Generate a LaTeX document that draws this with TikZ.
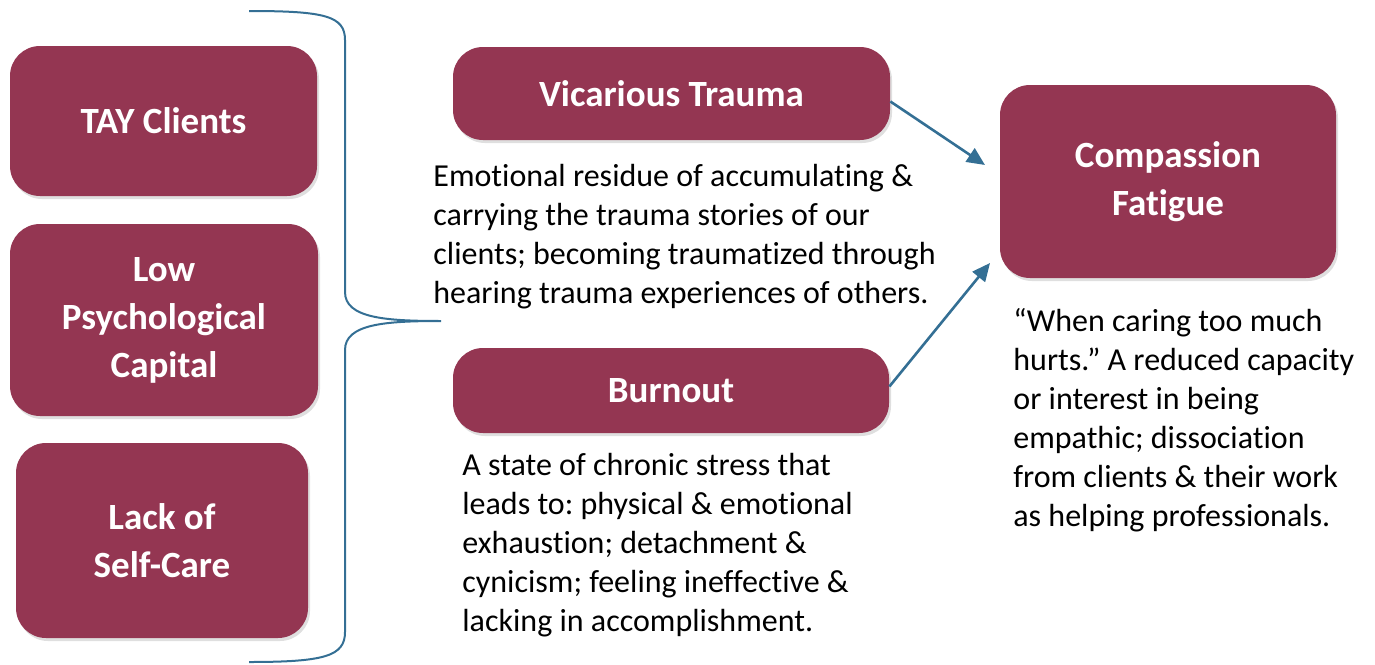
\documentclass[tikz,border=0pt]{standalone}
\usepackage{fontspec}
\setmainfont{Carlito}[Ligatures={NoCommon}]
\frenchspacing
\usetikzlibrary{arrows.meta,shadows}
\definecolor{boxred}{RGB}{148,54,82}
\definecolor{linkblue}{RGB}{52,111,148}
\begin{document}
\begin{tikzpicture}[x=0.5pt,y=-0.5pt]
        \useasboundingbox (0,0) rectangle (1375,664);
        \begin{scope}[every node/.style={rounded corners=15pt,fill=boxred,text=white,align=center,
            font=\bfseries\fontsize{18.5}{24}\selectfont,
            drop shadow={shadow xshift=1pt,shadow yshift=-1.5pt,opacity=0.25}}]
        \node[minimum width=153.5pt,minimum height=75pt] (tay) at (163.5,121) {TAY Clients};
        \node[minimum width=154pt,minimum height=96pt] (lowpc) at (164,320) {Low\\Psychological\\Capital};
        \node[minimum width=146pt,minimum height=97.5pt] (selfcare) at (162,540.5) {Lack of\\Self-Care};
        \node[minimum width=218.5pt,minimum height=46.5pt] (vt) at (671.5,93.5) {Vicarious Trauma};
        \node[minimum width=218pt,minimum height=42.5pt] (bo) at (671,390.5) {Burnout};
        \node[minimum width=168pt,minimum height=96.5pt] (cf) at (1168,181.5) {Compassion\\Fatigue};
        \end{scope}
        \begin{scope}[every node/.style={anchor=north west,align=left,inner sep=0pt,
            font=\fontsize{16}{19.5}\selectfont}]
        \node (vttext) at (433,164) {Emotional residue of accumulating \&\\carrying the trauma stories of our\\clients; becoming traumatized through\\hearing trauma experiences of others.};
        \node (botext) at (462,453) {A state of chronic stress that\\leads to: physical \& emotional\\exhaustion; detachment \&\\cynicism; feeling ineffective \&\\lacking in accomplishment.};
        \node (cftext) at (1013,308) {``When caring too much\\hurts.'' A reduced capacity\\or interest in being\\empathic; dissociation\\from clients \& their work\\as helping professionals.};
        \end{scope}
        \coordinate (bracetop) at (249,11);
        \coordinate (bracebot) at (249,662);
        \coordinate (bracetip) at (441,321);
        \coordinate (vtend) at (985,165);
        \coordinate (boend) at (990,263);
        \draw[linkblue,line width=1pt] (bracetop) .. controls (325,11) and (345,16) .. (345,40)
              -- (345,292) .. controls (345,318) and (385,321) .. (bracetip)
              .. controls (385,321) and (345,324) .. (345,350)
              -- (345,632) .. controls (345,656) and (325,662) .. (bracebot);
        \begin{scope}[every edge/.style={draw=linkblue,line width=1.3pt,-{Triangle[length=9pt,width=8pt]}}]
        \path ([yshift=-4pt]vt.east) edge (vtend)
              ([yshift=2pt]bo.east) edge (boend);
        \end{scope}
        \end{tikzpicture}
\end{document}
